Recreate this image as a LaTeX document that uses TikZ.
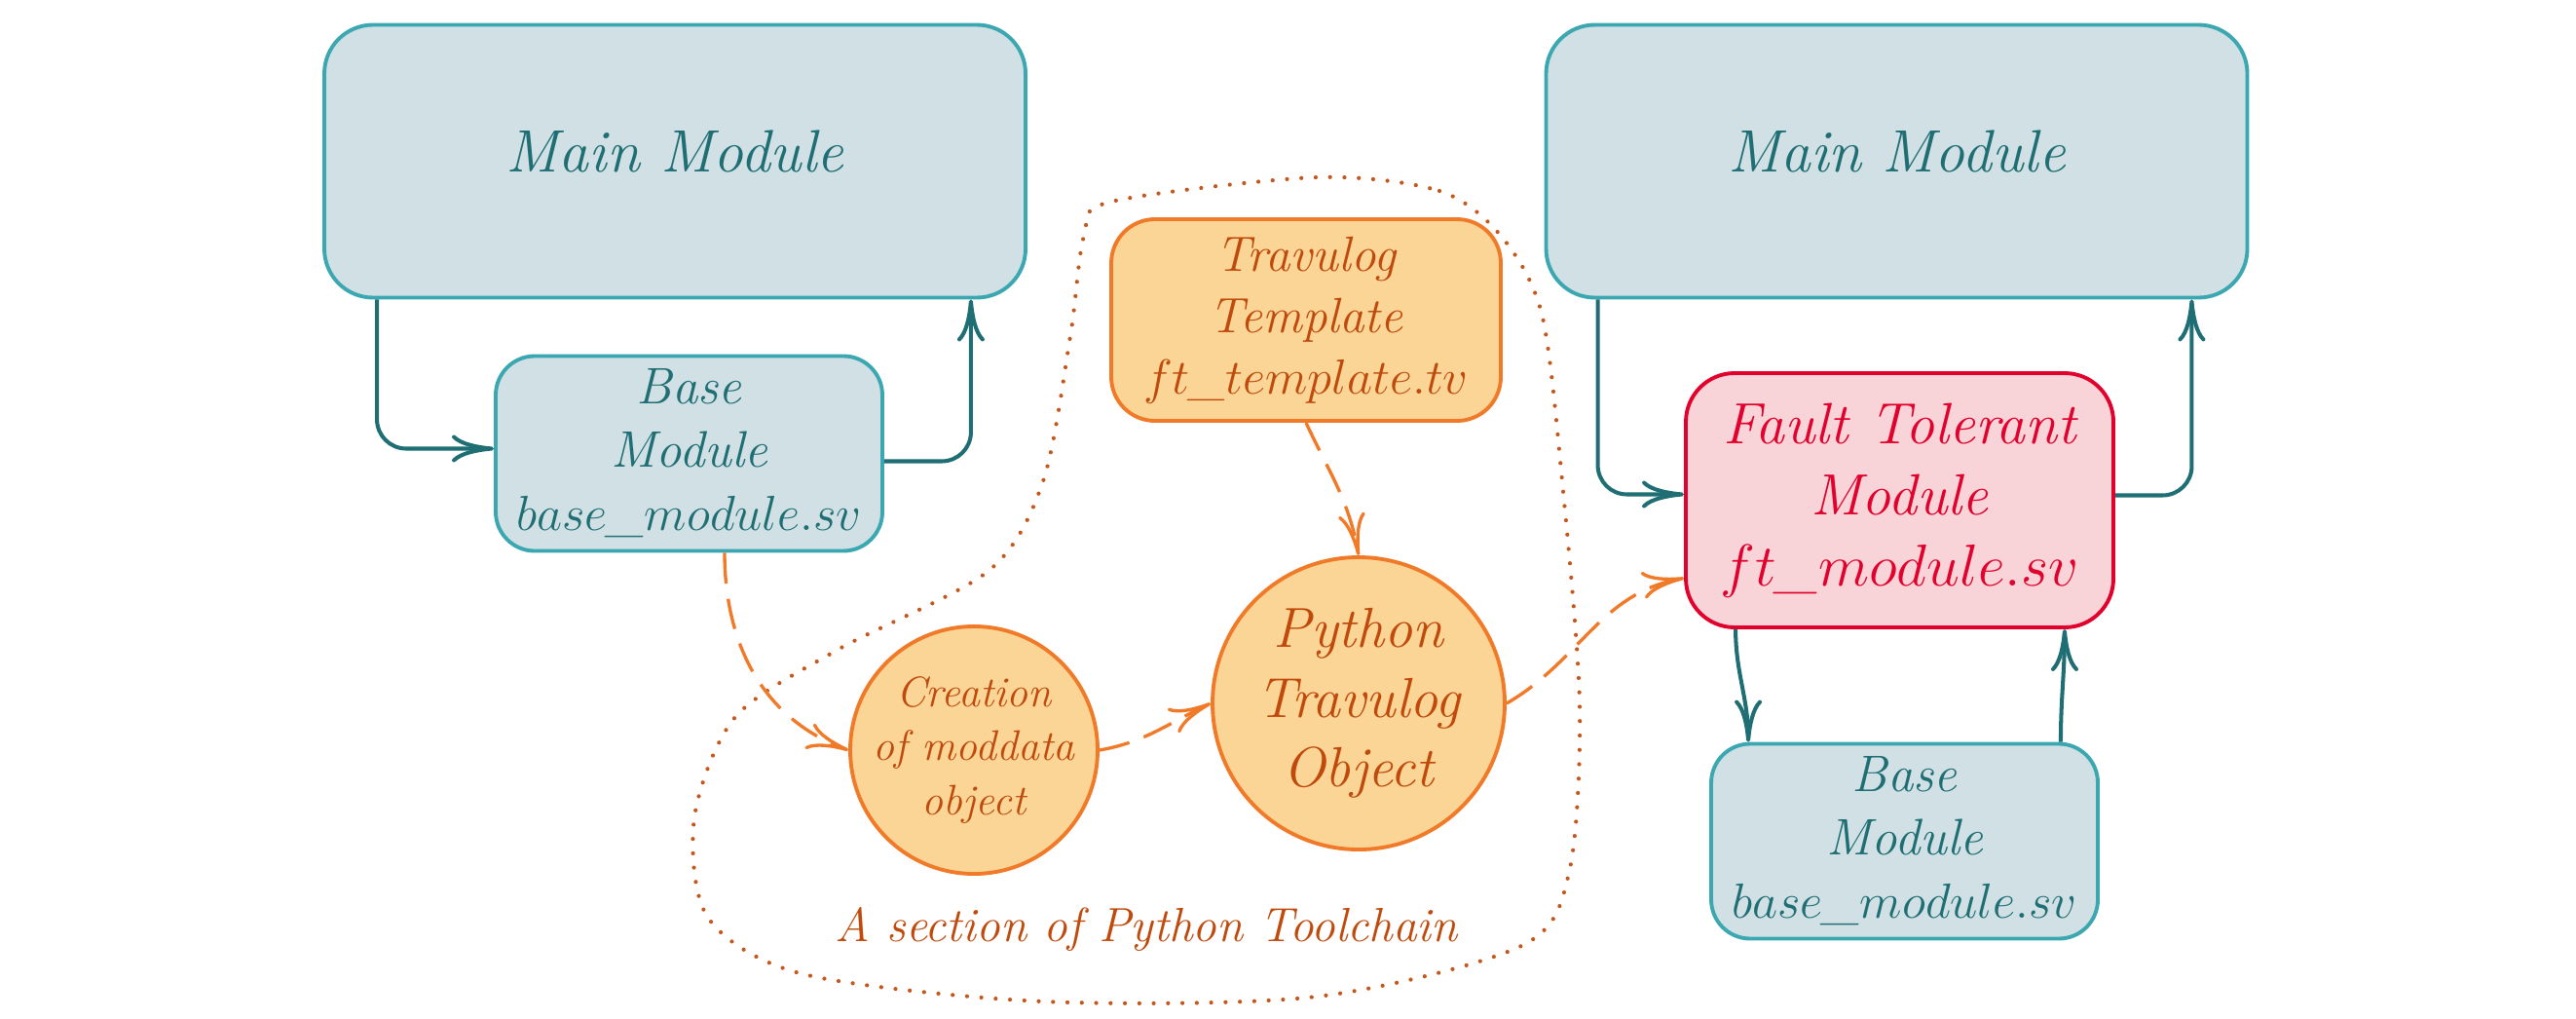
\documentclass[tikz,border=0pt]{standalone}
\usetikzlibrary{arrows.meta,positioning}

\definecolor{tealfill}{HTML}{D0E0E4}
\definecolor{tealline}{HTML}{3BA7B1}
\definecolor{tealtext}{HTML}{1E6E74}
\definecolor{orfill}{HTML}{FAD596}
\definecolor{orline}{HTML}{F07A28}
\definecolor{ortext}{HTML}{BF4A0C}
\definecolor{ftfill}{HTML}{F8D3D8}
\definecolor{ftline}{HTML}{E2002C}
\definecolor{dotcol}{HTML}{C4571C}

\tikzstyle{modbox} = [rectangle, rounded corners=5mm, draw=tealline, fill=tealfill, text=tealtext, line width=1.1pt, align=center, inner sep=1pt]
\tikzstyle{mainbox} = [modbox, minimum width=7.2cm, minimum height=2.8cm, text depth=2mm, font=\fontsize{17.5}{21}\selectfont\itshape]
\tikzstyle{basebox} = [modbox, rounded corners=4mm, minimum width=3.97cm, minimum height=2cm, font=\fontsize{15}{18.5}\selectfont\itshape]
\tikzstyle{ftbox} = [rectangle, rounded corners=5mm, draw=ftline, fill=ftfill, text=ftline, line width=1.1pt, align=center, inner sep=1pt, minimum width=4.39cm, minimum height=2.61cm, font=\fontsize{17}{20.7}\selectfont\itshape]
\tikzstyle{tvbox} = [rectangle, rounded corners=4.5mm, draw=orline, fill=orfill, text=ortext, line width=1.1pt, align=center, inner sep=1pt, minimum width=4cm, minimum height=2.07cm, font=\fontsize{14.5}{17.9}\selectfont\itshape]
\tikzstyle{tvcirc} = [circle, draw=orline, fill=orfill, text=ortext, line width=1.1pt, align=center, inner sep=-3mm]
\tikzstyle{tealarrow} = [line width=1.15pt, tealtext, rounded corners=3mm, -{To[length=4.3mm,width=2.8mm]}]
\tikzstyle{dasharrow} = [line width=0.95pt, orline, dash pattern=on 9pt off 4.5pt, -{To[length=4.3mm,width=2.8mm]}]
\tikzstyle{toolchain} = [line width=1.2pt, dotcol, line cap=round, dash pattern=on 0pt off 4.2pt]

\begin{document}
\begin{tikzpicture}[node distance=3cm]
\useasboundingbox (0,0) rectangle (26.45,-10.45);

%% Python toolchain boundary
\draw [toolchain] plot [smooth cycle] coordinates {(13.52,-1.82) (14.78,-1.96) (15.41,-2.42) (15.83,-3.22) (16.04,-4.94) (16.22,-7.24) (16.11,-8.96) (15.62,-9.71) (13.52,-10.23) (10.71,-10.28) (8.25,-10.00) (7.27,-9.42) (7.13,-8.39) (7.55,-7.36) (8.60,-6.67) (10.15,-5.86) (10.71,-4.94) (10.99,-3.45) (11.13,-2.42) (11.41,-2.07)};

%% Original design
\node (main_l) [mainbox] at (6.93,-1.655) {Main Module};
\node (base_l) [basebox, below of=main_l, xshift=1.45mm] {Base\\Module\\$base\_module.sv$};

%% Python toolchain
\node (tmpl) [tvbox, right of=base_l, xshift=3.335cm, yshift=13.7mm] {Travulog\\Template\\$ft\_template.tv$};
\node (py_obj) [tvcirc, minimum size=3cm, font=\fontsize{16.5}{20.4}\selectfont\itshape, below of=tmpl, xshift=5.4mm, yshift=-9.35mm] {Python\\Travulog\\Object};
\node (mod_data) [tvcirc, minimum size=2.54cm, font=\fontsize{12.5}{15.9}\selectfont\itshape, left of=py_obj, xshift=-9.5mm, yshift=-4.8mm] {Creation\\of moddata\\object};
\node (tc_name) [text=ortext, font=\fontsize{14}{17}\selectfont\itshape, below of=mod_data, xshift=17.7mm, yshift=11.6mm] {A section of Python Toolchain};

%% Fault tolerant design
\node (main_r) [mainbox, right of=main_l, xshift=9.545cm] {Main Module};
\node (ft_r) [ftbox, below of=main_r, xshift=0.3mm, yshift=-4.8mm] {Fault Tolerant\\Module\\$ft\_module.sv$};
\node (base_r) [basebox, below of=ft_r, xshift=0.5mm, yshift=-5mm] {Base\\Module\\$base\_module.sv$};

%% Arrows
\draw [tealarrow] ([xshift=5.6mm]main_l.south west) |- ([yshift=0.5mm]base_l.west);
\draw [tealarrow] ([yshift=-0.8mm]base_l.east) -| ([xshift=-5.8mm]main_l.south east);

\draw [dasharrow] ([xshift=3.65mm]base_l.south) to[out=-90,in=160] (mod_data.west);
\draw [dasharrow] (mod_data.east) to[out=10,in=205] (py_obj.west);
\draw [dasharrow] (tmpl.south) to[out=-65,in=100] (py_obj.north);
\draw [dasharrow] (py_obj.east) to[out=30,in=190] ([yshift=-8mm]ft_r.west);

\draw [tealarrow] ([xshift=5.5mm]main_r.south west) |- ([yshift=0.6mm]ft_r.west);
\draw [tealarrow] ([yshift=0.5mm]ft_r.east) -| ([xshift=-5.9mm]main_r.south east);
\draw [tealarrow] ([xshift=5.3mm]ft_r.south west) to[out=-90,in=90] ([xshift=4mm]base_r.north west);
\draw [tealarrow] ([xshift=-4mm]base_r.north east) to[out=90,in=-90] ([xshift=-5.2mm]ft_r.south east);
\end{tikzpicture}
\end{document}
